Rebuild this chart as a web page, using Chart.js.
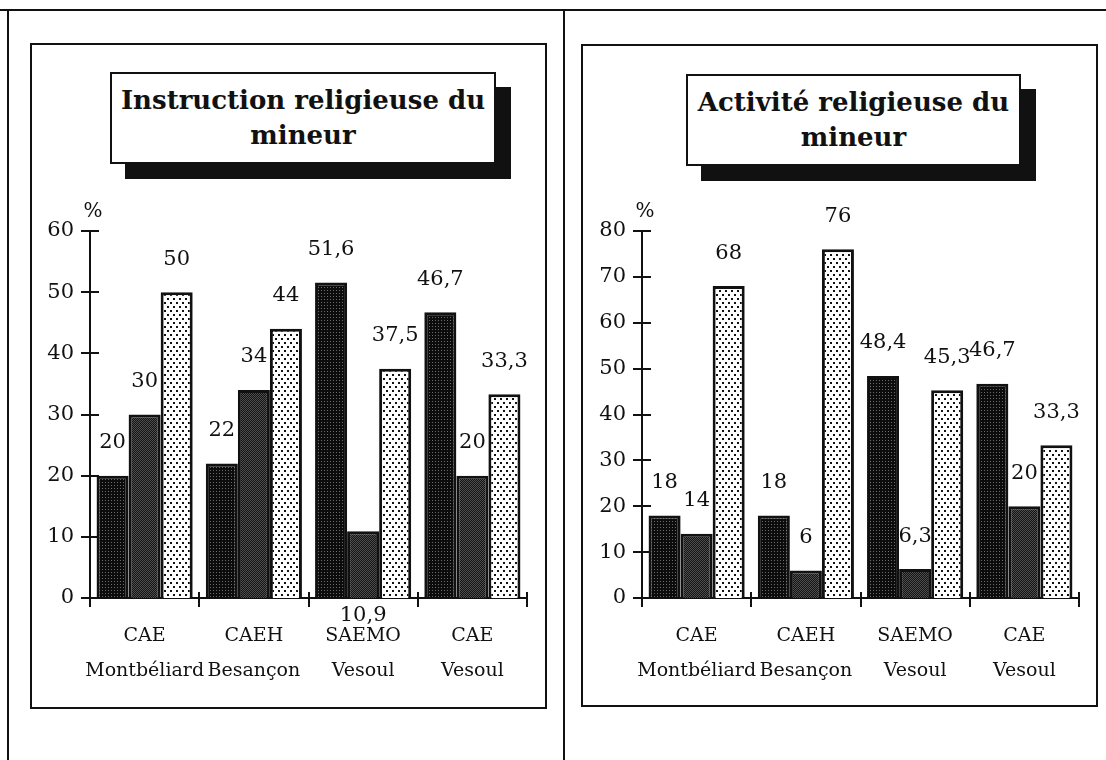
<!DOCTYPE html>
<html lang="fr">
<head>
<meta charset="utf-8">
<title>Instruction et activité religieuse du mineur</title>
<script src="https://cdn.jsdelivr.net/npm/chart.js@4.4.1/dist/chart.umd.min.js"></script>
<style>
  html, body { margin: 0; padding: 0; background: #fff; }
  body { width: 1106px; height: 760px; position: relative; overflow: hidden; font-family: "DejaVu Serif", serif; color: #111; }
  .rule { position: absolute; background: #111; }
  .panel { position: absolute; border: 2px solid #111; box-sizing: border-box; }
  .title {
    position: absolute; box-sizing: border-box; border: 2px solid #111; background: #fff;
    box-shadow: 15px 15px 0 #111; text-align: center; font-weight: bold; font-size: 26px;
    line-height: 35px; display: flex; align-items: center; justify-content: center;
  }
  .chart { position: absolute; top: 190px; width: 512px; height: 508px; }
</style>
</head>
<body>
<div class="rule" style="left:0; top:9px; width:1106px; height:2px"></div>
<div class="rule" style="left:7px; top:9px; width:2px; height:751px"></div>
<div class="rule" style="left:563px; top:9px; width:2px; height:751px"></div>

<div class="panel" style="left:30px; top:43px; width:517px; height:666px"></div>
<div class="panel" style="left:581px; top:44px; width:517px; height:663px"></div>

<div class="title" style="left:110px; top:72px; width:386px; height:92px">Instruction religieuse du<br>mineur</div>
<div class="title" style="left:686px; top:74px; width:335px; height:92px">Activité religieuse du<br>mineur</div>

<div class="chart" style="left:32px"><canvas id="instruction"></canvas></div>
<div class="chart" style="left:584px"><canvas id="activite"></canvas></div>

<script>
// categories (x axis)
const categories = [['CAE', 'Montbéliard'], ['CAEH', 'Besançon'], ['SAEMO', 'Vesoul'], ['CAE', 'Vesoul']];

// Instruction religieuse du mineur (%)
const instructionS1 = [20, 22, 51.6, 46.7];
const instructionS2 = [30, 34, 10.9, 20];
const instructionS3 = [50, 44, 37.5, 33.3];
const instructionMax = 60;

// Activité religieuse du mineur (%)
const activiteS1 = [18, 18, 48.4, 46.7];
const activiteS2 = [14, 6, 6.3, 20];
const activiteS3 = [68, 76, 45.3, 33.3];
const activiteMax = 80;

const tickStep = 10;

// value labels written under the axis instead of above the bar: [dataset, index]
const instructionBelow = [[1, 2]];
const activiteBelow = [];

const serif = '"DejaVu Serif", serif';

function makePattern(bg, dot, w, h, dots) {
  const c = document.createElement('canvas');
  c.width = w; c.height = h;
  const g = c.getContext('2d');
  g.fillStyle = bg;
  g.fillRect(0, 0, w, h);
  g.fillStyle = dot;
  dots.forEach(d => g.fillRect(d[0], d[1], d[2], d[2]));
  return g.createPattern(c, 'repeat');
}

const darkFill = makePattern('#0c0c0c', '#6a6a6a', 3, 3, [[1, 1, 1]]);
const grayFill = makePattern('#141414', '#4e4e4e', 2, 2, [[0, 0, 1], [1, 1, 1]]);
const lightFill = makePattern('#ffffff', '#111111', 6, 8, [[0, 0, 2], [3, 4, 2]]);

function fmt(v) {
  return String(v).replace('.', ',');
}

const decorations = {
  id: 'decorations',
  beforeDatasetsDraw(chart, args, opts) {
    const ctx = chart.ctx;
    const y = chart.scales.y;
    ctx.save();
    ctx.font = '21px ' + serif;
    ctx.fillStyle = '#111';
    ctx.textAlign = 'center';
    ctx.textBaseline = 'middle';
    chart.data.datasets.forEach((ds, di) => {
      chart.getDatasetMeta(di).data.forEach((bar, i) => {
        const below = opts.below.some(b => b[0] === di && b[1] === i);
        ctx.fillText(fmt(ds.data[i]), bar.x, below ? y.bottom + 18 : bar.y - 33);
      });
    });
    ctx.restore();
  },
  afterDatasetsDraw(chart) {
    const ctx = chart.ctx;
    const x = chart.scales.x, y = chart.scales.y;
    ctx.save();
    ctx.strokeStyle = '#111';
    ctx.lineWidth = 2;
    y.ticks.forEach(t => {
      const py = Math.round(y.getPixelForValue(t.value));
      ctx.beginPath();
      ctx.moveTo(x.left - 9, py);
      ctx.lineTo(x.left + 9, py);
      ctx.stroke();
    });
    for (let i = 0; i <= chart.data.labels.length; i++) {
      const px = Math.round(x.getPixelForValue(i - 0.5));
      ctx.beginPath();
      ctx.moveTo(px, y.bottom - 6);
      ctx.lineTo(px, y.bottom + 9);
      ctx.stroke();
    }
    ctx.font = '20px ' + serif;
    ctx.fillStyle = '#111';
    ctx.textAlign = 'center';
    ctx.textBaseline = 'middle';
    ctx.fillText('%', x.left + 3, y.top - 19);
    ctx.restore();
  }
};

function buildChart(id, s1, s2, s3, max, below) {
  const bar = { borderColor: '#111', borderWidth: 3, barPercentage: 1, categoryPercentage: 0.88 };
  return new Chart(document.getElementById(id), {
    type: 'bar',
    data: {
      labels: categories,
      datasets: [
        Object.assign({ label: 'série 1', data: s1, backgroundColor: darkFill }, bar),
        Object.assign({ label: 'série 2', data: s2, backgroundColor: grayFill }, bar),
        Object.assign({ label: 'série 3', data: s3, backgroundColor: lightFill }, bar)
      ]
    },
    options: {
      responsive: true,
      maintainAspectRatio: false,
      animation: false,
      layout: { padding: { top: 41, right: 17, left: 0, bottom: 0 } },
      plugins: {
        legend: { display: false },
        tooltip: { enabled: false },
        decorations: { below: below }
      },
      scales: {
        x: {
          offset: true,
          grid: { display: false, drawTicks: false },
          border: { display: true, color: '#111', width: 2 },
          ticks: { color: '#111', padding: 20, maxRotation: 0, autoSkip: false, font: { family: serif, size: 19, lineHeight: 1.85 } },
          afterFit: s => { s.height = 100; }
        },
        y: {
          min: 0,
          max: max,
          grid: { display: false, drawTicks: false },
          border: { display: true, color: '#111', width: 2 },
          ticks: { stepSize: tickStep, color: '#111', padding: 16, font: { family: serif, size: 21 } },
          afterFit: s => { s.width = 58; }
        }
      }
    },
    plugins: [decorations]
  });
}

buildChart('instruction', instructionS1, instructionS2, instructionS3, instructionMax, instructionBelow);
buildChart('activite', activiteS1, activiteS2, activiteS3, activiteMax, activiteBelow);
</script>
</body>
</html>
